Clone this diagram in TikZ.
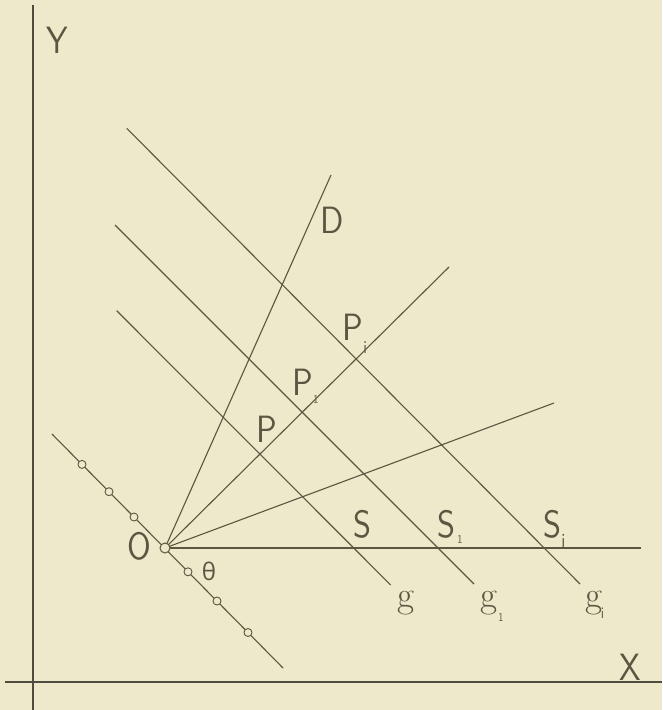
\documentclass[tikz,border=0pt]{standalone}
\usepackage{fontspec}
\newfontfamily\labf[FakeStretch=0.85]{lmsans10-regular.otf}
\newfontfamily\grkf{Open Sans}
\definecolor{bg}{RGB}{237,233,202}
\definecolor{ink}{RGB}{90,86,66}
\definecolor{axisink}{RGB}{78,76,62}
\newcommand\subx[4]{\rlap{\kern#1\raisebox{#2}{\labf\fontsize{#3}{#3}\selectfont #4}}}
\begin{document}
\begin{tikzpicture}[x=1pt,y=-1pt,
  ln/.style={draw=ink,line width=1.1pt},
  axisline/.style={draw=axisink,line width=2.3pt},
  lbl/.style={text=ink,font=\labf\fontsize{38}{38}\selectfont,inner sep=0pt,anchor=base},
  glbl/.style={text=ink,font=\rmfamily\fontsize{37}{37}\selectfont,inner sep=0pt,anchor=base},
  thlbl/.style={text=ink,font=\grkf\fontsize{24}{24}\selectfont,inner sep=0pt},
  dotpt/.style={circle,draw=ink,fill=bg,inner sep=0pt,minimum size=8pt,line width=0.9pt},
  opt/.style={circle,draw=ink,fill=bg,inner sep=0pt,minimum size=10pt,line width=1pt},
]
\fill[bg] (0,0) rectangle (662,710);
\useasboundingbox (0,0) rectangle (662,710);

% coordinates
\coordinate (Ya) at (33,5);
\coordinate (Yb) at (33,710);
\coordinate (Xa) at (5,682);
\coordinate (Xb) at (662,682);
\coordinate (O) at (165,548);
\coordinate (Dend) at (331,175);
\coordinate (Pend) at (449,267);
\coordinate (Rend) at (554,403);
\coordinate (Hend) at (641,548);
\coordinate (Ltop) at (52,434);
\coordinate (Lbot) at (283,668);
\coordinate (g0a) at (116.7,310.7);
\coordinate (g0b) at (390.7,585);
\coordinate (g1a) at (115,225);
\coordinate (g1b) at (474,584);
\coordinate (g2a) at (126.7,128.3);
\coordinate (g2b) at (580,584);

% axes
\draw[axisline] (Ya) -- (Yb);
\draw[axisline] (Xa) -- (Xb);

% rays from O
\draw[ln] (O) -- (Dend);
\draw[ln] (O) -- (Pend);
\draw[ln] (O) -- (Rend);
\draw[ln] (O) -- (Hend);

% parallel lines g
\draw[ln] (g0a) -- (g0b);
\draw[ln] (g1a) -- (g1b);
\draw[ln] (g2a) -- (g2b);

% line through O with points
\draw[ln] (Ltop) -- (Lbot);
\node[dotpt] (c1) at (82,464.4) {};
\node[dotpt] (c2) at (109,491.7) {};
\node[dotpt] (c3) at (134,517) {};
\node[dotpt] (c4) at (188,571.8) {};
\node[dotpt] (c5) at (217,601) {};
\node[dotpt] (c6) at (248,632.5) {};
\node[opt] (Oc) at (O) {};

% labels
\node[lbl] (Ylab) at (57,53) {Y};
\node[lbl] (Xlab) at (630,680) {X};
\node[lbl] (Dlab) at (332,233) {D};
\node[lbl] (Olab) at (139,559) {O};
\node[thlbl] (thlab) at (209,571) {θ};
\node[lbl] (Plab) at (267,442) {P};
\node[lbl] (P1lab) at (303,395) {P\subx{0pt}{-8pt}{12}{1}};
\node[lbl] (Pilab) at (353,340) {P\subx{0pt}{-13pt}{18}{i}};
\node[lbl] (Slab) at (362,537) {S};
\node[lbl] (S1lab) at (446,537) {S\subx{2.5pt}{-6pt}{12}{1}};
\node[lbl] (Silab) at (552,537) {S\subx{0.5pt}{-10pt}{20}{i}};
\node[glbl] (glab) at (406,607) {g};
\node[glbl] (g1lab) at (489,607) {g\subx{0.9pt}{-14pt}{12}{1}};
\node[glbl] (gilab) at (594,607) {g\subx{-1.5pt}{-11pt}{16}{i}};
\end{tikzpicture}
\end{document}
